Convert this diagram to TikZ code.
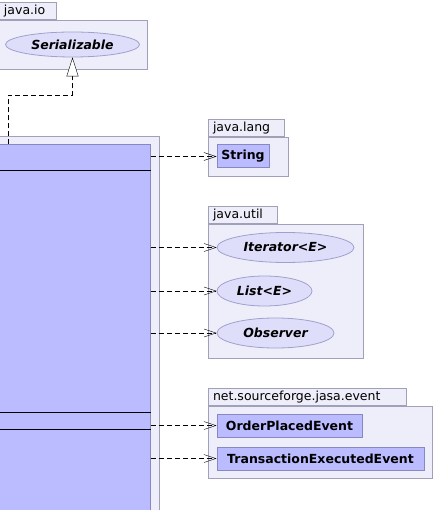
\documentclass[tikz,border=0pt]{standalone}
\usepackage{fontspec}
\setmainfont{DejaVu Sans}
\usetikzlibrary{arrows.meta, positioning, shapes.geometric}
\definecolor{clsfill}{RGB}{187, 187, 255}
\definecolor{clsline}{RGB}{136, 136, 192}
\definecolor{ifcfill}{RGB}{222, 222, 250}
\definecolor{ifcline}{RGB}{160, 160, 205}
\definecolor{pkgfill}{RGB}{238, 238, 250}
\definecolor{pkgline}{RGB}{160, 160, 184}

\begin{document}
\begin{tikzpicture}[x=1pt, y=-1pt,
    pkg/.style={draw=pkgline, fill=pkgfill, rectangle, line width=0.8pt, inner sep=0pt},
    tab/.style={draw=pkgline, fill=pkgfill, rectangle, line width=0.8pt, anchor=south west, minimum height=17pt, inner xsep=5pt, inner ysep=2pt, text height=9.5pt, text depth=2.5pt, align=left, font=\fontsize{12.5}{14}\selectfont},
    cls/.style={draw=clsline, fill=clsfill, rectangle, line width=1pt, minimum height=23pt, inner sep=0pt, font=\fontsize{12.5}{14}\selectfont\bfseries},
    ifc/.style={draw=ifcline, fill=ifcfill, ellipse, line width=0.8pt, inner sep=0pt, minimum height=30pt, font=\fontsize{12.5}{14}\selectfont\bfseries\itshape},
    dep/.style={draw, dash pattern=on 5pt off 3pt, -{Straight Barb[length=12pt, width=8pt]}},
    real/.style={draw, dash pattern=on 5pt off 3pt, -{Triangle[open, fill=white, length=19pt, width=12pt]}},
    sep/.style={draw, line width=1pt}]
    \useasboundingbox (0,0) rectangle (435,510);
    \clip (0,0) rectangle (435,510);

    % java.io
    \node[pkg, minimum width=148pt, minimum height=49pt] (io) at (73,44.5) {};
    \node[tab, text width=47pt] (iotab) at (io.north west) {java.io};
    \node[ifc, minimum width=134pt, minimum height=25pt] (ser) at (72.5,44.5) {Serializable};

    % the class itself
    \node[pkg, minimum width=164pt, minimum height=390pt] (own) at (77,331) {};
    \node[cls, minimum width=154pt, minimum height=380pt] (main) at (73,335) {};
    \draw[sep] (main.west |- 0,171) -- (main.east |- 0,171);
    \draw[sep] (main.west |- 0,412) -- (main.east |- 0,412);
    \draw[sep] (main.west |- 0,429) -- (main.east |- 0,429);

    % java.lang
    \node[pkg, minimum width=80pt, minimum height=39pt] (lang) at (248,156.5) {};
    \node[tab, text width=66pt] (langtab) at (lang.north west) {java.lang};
    \node[cls, minimum width=52pt] (str) at (243,156.5) {String};

    % java.util
    \node[pkg, minimum width=155pt, minimum height=134pt] (util) at (285.5,291) {};
    \node[tab, text width=59pt] (utiltab) at (util.north west) {java.util};
    \node[ifc, minimum width=137pt] (iter) at (285.5,247.5) {Iterator<E>};
    \node[ifc, minimum width=95pt] (list) at (264.5,291) {List<E>};
    \node[ifc, minimum width=117pt] (obs) at (275.5,333) {Observer};

    % net.sourceforge.jasa.event
    \node[pkg, minimum width=224pt, minimum height=72pt] (event) at (320,442) {};
    \node[tab, text width=188pt] (eventtab) at (event.north west) {net.sourceforge.jasa.event};
    \node[cls, minimum width=145pt] (order) at (289.5,425.5) {OrderPlacedEvent};
    \node[cls, minimum width=207pt] (trans) at (320.5,458.5) {TransactionExecutedEvent};

    % dependencies
    \coordinate (bend) at (72.5,95);
    \draw[real] ([xshift=13pt]main.north west) |- (bend) -- (ser);
    \draw[dep] (str -| main.east) -- (str);
    \draw[dep] (iter -| main.east) -- (iter);
    \draw[dep] (list -| main.east) -- (list);
    \draw[dep] (obs -| main.east) -- (obs);
    \draw[dep] (order -| main.east) -- (order);
    \draw[dep] (trans -| main.east) -- (trans);
\end{tikzpicture}
\end{document}
